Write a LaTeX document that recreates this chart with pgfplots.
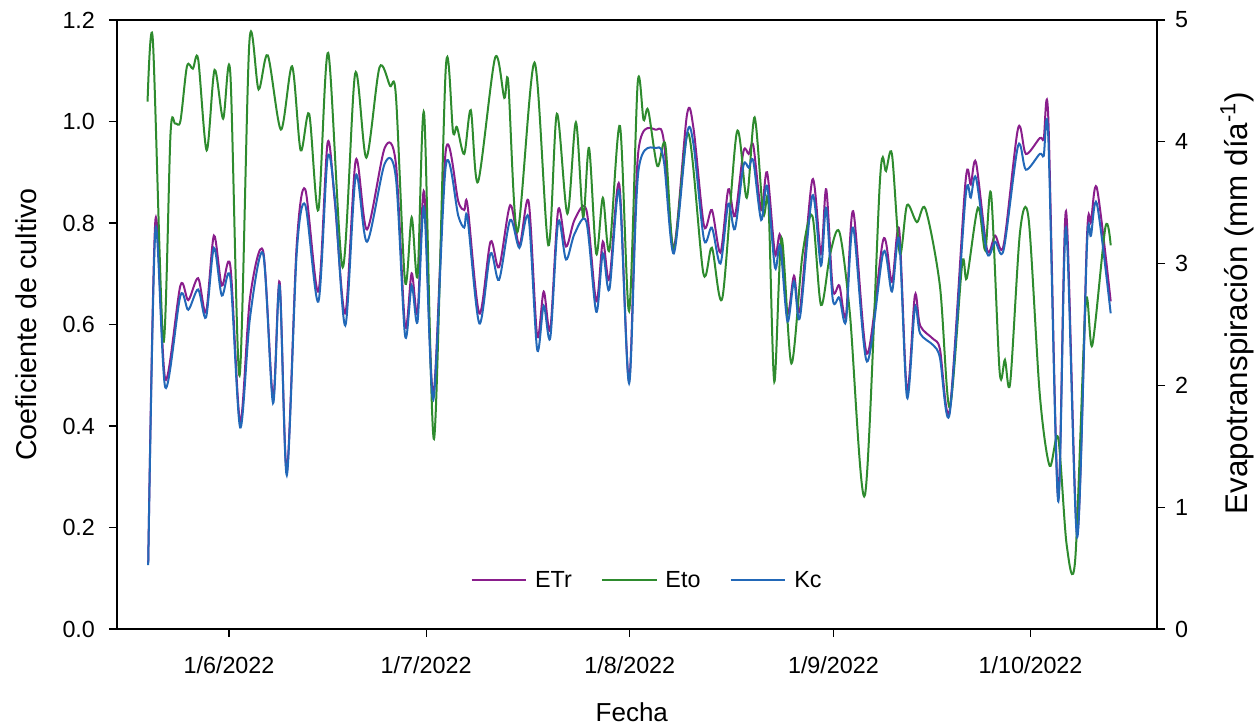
\documentclass[border=0pt]{standalone}
\usepackage{pgfplots}
\pgfplotsset{compat=1.18}
\usepackage{pgfplotstable}
\usepackage{fontspec}
\setmainfont{Liberation Sans}

\definecolor{etrcol}{RGB}{138,30,140}
\definecolor{etocol}{RGB}{46,139,46}
\definecolor{kccol}{RGB}{34,104,184}

% day 0 = 1 June 2022
\pgfplotstableread{
day kc
-12.3 0.126
-11.2 0.787
-9.7 0.476
-7.4 0.657
-6.2 0.629
-4.7 0.669
-3.5 0.614
-2.3 0.751
-1.1 0.657
0.2 0.692
1.7 0.397
3.2 0.614
5.2 0.739
6.7 0.445
7.7 0.677
8.8 0.303
10.3 0.740
11.6 0.836
13.6 0.645
15.0 0.928
16.1 0.850
17.7 0.598
19.3 0.893
21.0 0.763
23.7 0.917
25.4 0.889
26.8 0.578
27.8 0.677
28.7 0.606
29.7 0.830
31.1 0.452
33.0 0.913
34.9 0.814
35.8 0.791
36.3 0.810
38.1 0.602
39.8 0.740
41.1 0.688
42.8 0.806
44.2 0.751
45.6 0.810
46.9 0.551
47.9 0.637
48.9 0.574
50.1 0.802
51.3 0.728
52.6 0.779
54.4 0.802
55.9 0.625
56.9 0.740
57.9 0.669
59.4 0.862
60.9 0.484
62.3 0.901
65.1 0.948
66.2 0.921
67.7 0.740
69.7 0.975
70.7 0.955
72.3 0.767
73.5 0.791
74.8 0.720
76.0 0.838
77.0 0.788
78.3 0.913
79.1 0.909
79.8 0.922
81.0 0.806
81.9 0.873
83.1 0.712
83.9 0.755
85.0 0.606
86.0 0.685
86.9 0.614
88.8 0.854
90.1 0.716
90.9 0.830
91.9 0.649
92.9 0.653
93.9 0.606
95.0 0.791
97.1 0.527
99.6 0.743
100.9 0.665
102.0 0.767
103.2 0.456
104.4 0.633
105.2 0.582
107.2 0.559
108.2 0.535
109.7 0.425
112.1 0.850
112.9 0.850
113.7 0.889
115.4 0.740
116.6 0.763
117.9 0.747
120.1 0.952
121.3 0.905
123.4 0.936
124.0 0.932
124.7 0.970
126.2 0.252
127.4 0.791
129.1 0.181
130.6 0.759
131.2 0.775
132.1 0.838
134.2 0.622
}\kctable

\pgfplotstableread{
day etr
-12.3 0.54
-11.2 3.36
-9.7 2.05
-7.4 2.82
-6.2 2.70
-4.7 2.88
-3.5 2.60
-2.3 3.23
-1.1 2.82
0.2 2.98
1.7 1.70
3.2 2.72
5.2 3.10
6.7 1.90
7.7 2.85
8.8 1.29
10.3 3.15
11.6 3.61
13.6 2.77
15.0 3.99
16.1 3.51
17.7 2.59
19.3 3.85
21.0 3.28
23.7 3.95
25.4 3.82
26.8 2.49
27.8 2.92
28.7 2.60
29.7 3.59
31.1 1.92
33.0 3.93
34.9 3.51
35.8 3.44
36.3 3.48
38.1 2.59
39.8 3.18
41.1 2.97
42.8 3.48
44.2 3.15
45.6 3.51
46.9 2.41
47.9 2.77
48.9 2.46
50.1 3.44
51.3 3.14
52.6 3.36
54.4 3.44
55.9 2.69
56.9 3.18
57.9 2.87
59.4 3.65
60.9 2.04
62.3 3.92
65.1 4.10
66.2 4.00
67.7 3.13
69.7 4.22
70.7 4.11
72.3 3.31
73.5 3.44
74.8 3.09
76.0 3.61
77.0 3.39
78.3 3.92
79.1 3.90
79.8 3.97
81.0 3.44
81.9 3.75
83.1 3.08
83.9 3.23
85.0 2.59
86.0 2.90
86.9 2.62
88.8 3.69
90.1 3.08
90.9 3.61
91.9 2.79
92.9 2.82
93.9 2.57
95.0 3.43
97.1 2.26
99.6 3.20
100.9 2.85
102.0 3.28
103.2 1.95
104.4 2.74
105.2 2.49
107.2 2.38
108.2 2.30
109.7 1.80
112.1 3.67
112.9 3.65
113.7 3.83
115.4 3.11
116.6 3.23
117.9 3.15
120.1 4.11
121.3 3.90
123.4 4.03
124.0 4.02
124.7 4.20
126.2 1.08
127.4 3.43
129.1 0.79
130.6 3.23
131.2 3.34
132.1 3.62
134.2 2.69
}\etrtable

\pgfplotstableread{
day eto
-12.4 4.33
-11.6 4.84
-10.0 2.36
-8.9 4.07
-8.2 4.15
-7.4 4.17
-6.4 4.62
-5.5 4.60
-4.7 4.68
-3.4 3.93
-2.2 4.59
-0.9 4.19
0.2 4.56
1.6 2.08
3.1 4.82
4.5 4.43
5.9 4.71
7.9 4.10
9.6 4.62
10.9 3.93
12.2 4.23
13.6 3.44
15.1 4.73
17.3 2.97
19.2 4.56
20.9 3.87
22.9 4.61
24.5 4.46
25.4 4.38
26.8 2.85
27.8 3.38
28.7 2.90
29.7 4.23
31.2 1.56
33.0 4.61
34.1 4.08
34.7 4.12
35.8 3.90
36.8 4.26
37.9 3.67
40.5 4.69
41.9 4.36
42.5 4.49
43.9 3.26
46.5 4.65
48.6 3.15
49.9 4.23
51.5 3.41
52.8 4.16
53.9 3.38
54.8 3.95
55.9 3.08
56.9 3.54
57.9 3.11
59.5 4.13
60.9 2.61
62.2 4.48
63.1 4.18
63.8 4.26
65.2 3.80
66.4 3.98
67.7 3.11
69.9 4.07
72.2 2.92
73.5 3.13
75.1 2.72
77.3 4.08
78.8 3.54
80.0 4.20
81.3 3.41
82.1 3.50
83.0 2.03
84.1 3.21
85.6 2.18
87.3 3.08
88.8 3.39
90.1 2.66
91.5 3.08
92.9 3.26
94.5 2.59
96.8 1.10
99.1 3.70
100.0 3.76
100.9 3.90
102.1 3.08
103.2 3.48
104.7 3.34
106.0 3.45
108.2 2.82
109.7 1.82
111.6 3.00
112.3 2.88
114.0 3.46
115.1 3.11
116.0 3.57
117.3 2.11
118.1 2.21
118.9 2.02
120.4 3.26
121.7 3.37
123.4 1.93
124.9 1.34
126.2 1.57
127.5 0.69
128.8 0.57
130.4 2.67
131.4 2.33
133.4 3.30
134.2 3.15
}\etotable

\pgfplotsset{
  common/.style={
    scale only axis,
    width=780pt, height=456.75pt,
    xmin=-17.05, xmax=141.25,
    tick align=outside,
    major tick length=6pt,
    axis line style={line width=0.9pt},
    every tick/.style={black, line width=0.9pt},
    tick label style={font=\fontsize{17.5}{20}\selectfont},
    /pgf/number format/assume math mode=true,
  },
  etrline/.style={color=etrcol, line width=1.5pt, smooth, tension=0.5},
  etoline/.style={color=etocol, line width=1.5pt, smooth, tension=0.5},
  kcline/.style={color=kccol, line width=1.5pt, smooth, tension=0.5},
}

\begin{document}
\begin{tikzpicture}
% right axis: evapotranspiration (mm per day)
\begin{axis}[
  common,
  name=etaxis,
  ymin=0, ymax=5,
  axis y line*=right,
  axis x line=none,
  ytick={0,1,2,3,4,5},
  y tick label style={xshift=4pt},
  ylabel={Evapotranspiración (mm día\textsuperscript{-1})},
  every axis y label/.style={at={(axis description cs:1.077,0.535)}, rotate=90, anchor=center,
    font=\fontsize{23.5}{26}\selectfont},
]
\addplot[etrline] table[x=day, y=etr] {\etrtable};
\addplot[etoline] table[x=day, y=eto] {\etotable};
\end{axis}
% left axis: crop coefficient
\begin{axis}[
  common,
  name=main,
  ymin=0, ymax=1.2,
  ytick={0,0.2,0.4,0.6,0.8,1.0,1.2},
  ytick pos=left, xtick pos=bottom,
  y tick label style={xshift=-7pt, /pgf/number format/fixed, /pgf/number format/fixed zerofill, /pgf/number format/precision=1},
  x tick label style={yshift=-11pt},
  xtick={0,30,61,92,122},
  xticklabels={1/6/2022,1/7/2022,1/8/2022,1/9/2022,1/10/2022},
  xlabel={Fecha},
  ylabel={Coeficiente de cultivo},
  every axis y label/.style={at={(axis description cs:-0.0875,0.5)}, rotate=90, anchor=center,
    font=\fontsize{21.5}{24}\selectfont},
  every axis x label/.style={at={(axis description cs:0.495,-0.136)}, anchor=center,
    font=\fontsize{19.5}{22}\selectfont},
  legend columns=3,
  legend style={draw=none, fill=none, at={(axis description cs:0.51,0.08)}, anchor=center,
    font=\fontsize{17.5}{20}\selectfont,
    /tikz/every odd column/.append style={column sep=4pt},
    /tikz/every even column/.append style={column sep=20pt}},
  legend image code/.code={\draw[#1, line width=1.3pt] (0pt,0pt) -- (41pt,0pt);},
]
\addlegendimage{etrline}
\addlegendentry{ETr}
\addlegendimage{etoline}
\addlegendentry{Eto}
\addplot[kcline] table[x=day, y=kc] {\kctable};
\addlegendentry{Kc}
\end{axis}
\pgfresetboundingbox
\useasboundingbox ([shift={(-87.75pt,-73.5pt)}]main.south west) rectangle ([shift={(73.5pt,15pt)}]main.north east);
\end{tikzpicture}
\end{document}
